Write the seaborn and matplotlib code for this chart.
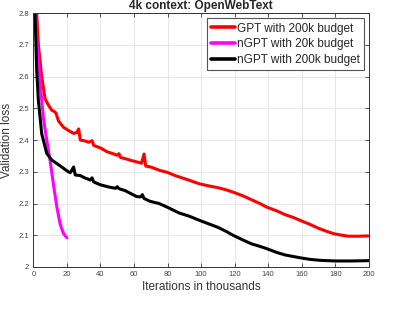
import matplotlib
matplotlib.use("Agg")
import matplotlib.pyplot as plt
import seaborn as sns
import pandas as pd

gpt_x = [0, 1, 2, 3, 5, 7, 9, 11, 12.5, 13.5, 15, 18, 21, 24, 26, 27, 28, 31, 33, 35, 36, 40, 44, 48, 50, 51, 52, 55, 57.5, 61, 64.5, 66, 67, 70, 75, 80, 85, 92, 99, 105, 110, 115, 119, 125, 130, 135, 139, 145, 150, 155, 159, 165, 170, 175, 179, 184, 188, 194, 200]
gpt_y = [3.3, 3.0, 2.8, 2.7, 2.6, 2.53, 2.51, 2.494, 2.49, 2.485, 2.46, 2.44, 2.43, 2.421, 2.424, 2.435, 2.40, 2.397, 2.393, 2.398, 2.383, 2.375, 2.363, 2.356, 2.352, 2.357, 2.345, 2.341, 2.337, 2.332, 2.327, 2.356, 2.318, 2.315, 2.305, 2.298, 2.287, 2.275, 2.262, 2.255, 2.25, 2.243, 2.236, 2.224, 2.212, 2.2, 2.189, 2.177, 2.165, 2.156, 2.147, 2.134, 2.122, 2.112, 2.105, 2.1, 2.097, 2.097, 2.098]

ngpt20_x = [0, 0.5, 2, 4, 6, 8, 10, 12, 14, 16, 18, 20]
ngpt20_y = [3.1, 2.9, 2.72, 2.58, 2.47, 2.40, 2.335, 2.26, 2.19, 2.135, 2.105, 2.092]

ngpt200_x = [0, 1, 2, 3, 5, 8, 11, 14, 17, 20, 22, 23, 24, 25, 28, 31, 34, 35, 36, 40, 45, 49, 50, 51, 55, 57.5, 61.5, 64, 65, 66, 69.5, 75, 80, 87, 93, 99, 105, 110, 115, 119, 125, 130, 135, 139, 145, 150, 155, 159, 165, 171, 180, 190, 200]
ngpt200_y = [3.2, 2.8, 2.62, 2.526, 2.42, 2.358, 2.337, 2.326, 2.315, 2.303, 2.297, 2.305, 2.315, 2.29, 2.288, 2.28, 2.274, 2.281, 2.268, 2.259, 2.252, 2.248, 2.253, 2.247, 2.24, 2.233, 2.222, 2.221, 2.228, 2.216, 2.207, 2.2, 2.188, 2.17, 2.16, 2.147, 2.135, 2.125, 2.112, 2.1, 2.085, 2.073, 2.065, 2.058, 2.046, 2.038, 2.033, 2.029, 2.024, 2.021, 2.019, 2.019, 2.02]

labels = ["GPT with 200k budget", "nGPT with 20k budget", "nGPT with 200k budget"]
colors = ["#ff0000", "#ff00ff", "#000000"]

df = pd.concat([
    pd.DataFrame({"x": gpt_x, "y": gpt_y, "series": labels[0]}),
    pd.DataFrame({"x": ngpt20_x, "y": ngpt20_y, "series": labels[1]}),
    pd.DataFrame({"x": ngpt200_x, "y": ngpt200_y, "series": labels[2]}),
], ignore_index=True)

sns.set_theme(style="whitegrid")
plt.rcParams["font.family"] = ["Liberation Sans", "DejaVu Sans"]

fig = plt.figure(figsize=(4.04, 3.28), dpi=100)
ax = fig.add_axes([0.0825, 0.186, 0.8305, 0.774])
sns.lineplot(data=df, x="x", y="y", hue="series", hue_order=labels,
             palette=dict(zip(labels, colors)), linewidth=2.2, ax=ax,
             estimator=None, sort=False)

ax.set_xlim(0, 200)
ax.set_ylim(2.0, 2.8)
ax.set_xticks(range(0, 201, 20))
ax.set_yticks([2.0, 2.1, 2.2, 2.3, 2.4, 2.5, 2.6, 2.7, 2.8])
ax.set_yticklabels(["2", "2.1", "2.2", "2.3", "2.4", "2.5", "2.6", "2.7", "2.8"])
ax.tick_params(axis="both", which="both", direction="in", labelsize=5.5,
               labelcolor="#444444", color="#333333", length=3, width=0.6,
               top=True, right=True, bottom=True, left=True, pad=3)
ax.grid(True, color="#e6e6e6", linewidth=0.7)
for s in ax.spines.values():
    s.set_visible(True)
    s.set_color("#333333")
    s.set_linewidth(0.7)
ax.set_xlabel("Iterations in thousands", fontsize=8.5, color="#333333", labelpad=2)
ax.set_ylabel("Validation loss", fontsize=8.5, color="#333333", labelpad=4)
ax.set_title("4k context: OpenWebText", fontsize=8.5, fontweight="bold", pad=3)

leg = ax.legend(loc="upper right", fontsize=8.5, frameon=True, fancybox=False,
                edgecolor="#555555", framealpha=1, handlelength=2.0,
                borderpad=0.35, labelspacing=0.3, handletextpad=0.15,
                borderaxespad=0.45)
leg.get_frame().set_linewidth(0.8)
for line in leg.get_lines():
    line.set_linewidth(2.6)

fig.savefig("out.png", dpi=100)
